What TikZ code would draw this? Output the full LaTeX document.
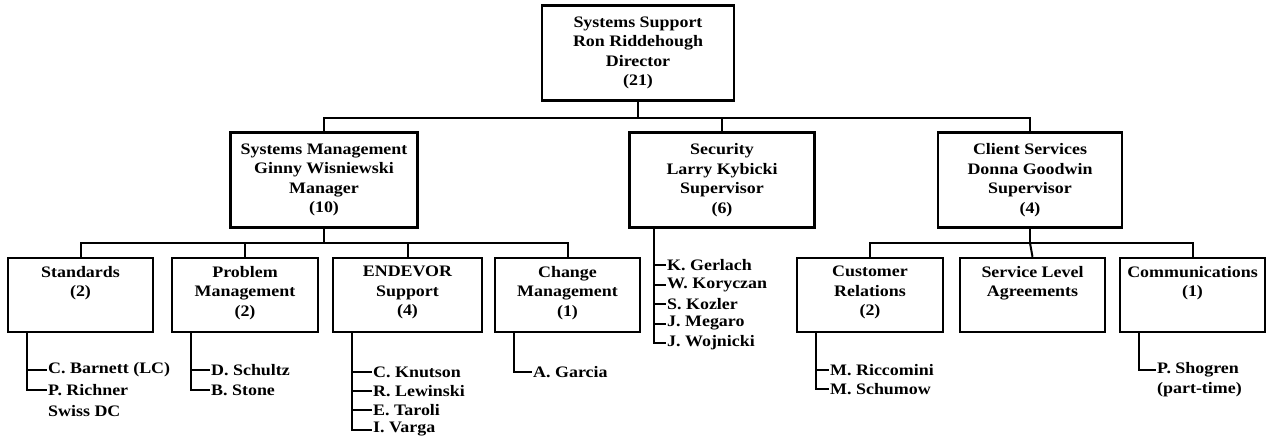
\documentclass[tikz,border=0pt]{standalone}
\usepackage{fontspec}
\setmainfont{Liberation Serif}[FakeStretch=1.12]
\begin{document}
\begin{tikzpicture}[x=1pt,y=-1pt,
  every node/.style={font=\bfseries\fontsize{16}{19.5}\selectfont},
  box/.style={draw, line width=2.4pt, inner sep=2pt, align=center},
  head/.style={box, minimum height=95pt},
  unit/.style={box, minimum width=#1, minimum height=74pt},
  utext/.style={anchor=north, align=center, inner sep=0pt, yshift=-9pt},
  member/.style={anchor=west, inner sep=1pt},
  link/.style={line width=2pt}]
\useasboundingbox (0,0) rectangle (1269,442);

% director
\node[head, minimum width=192pt] (dir) at (638,53)
  {Systems Support\\Ron Riddehough\\Director\\(21)};

% managers and supervisors
\node[head, minimum width=187pt] (sm) at (324,180)
  {Systems Management\\Ginny Wisniewski\\Manager\\(10)};
\node[head, minimum width=185pt] (sec) at (722,180)
  {Security\\Larry Kybicki\\Supervisor\\(6)};
\node[head, minimum width=184pt] (cs) at (1030,180)
  {Client Services\\Donna Goodwin\\Supervisor\\(4)};

% units
\node[unit=145pt, label={[utext]north:Standards\\(2)}] (std) at (80.5,295) {};
\node[unit=146pt, label={[utext]north:Problem\\Management\\(2)}] (pm) at (245,295) {};
\node[unit=149pt, label={[utext]north:ENDEVOR\\Support\\(4)}] (end) at (407.5,295) {};
\node[unit=145pt, label={[utext]north:Change\\Management\\(1)}] (chg) at (567.5,295) {};
\node[unit=146pt, label={[utext]north:Customer\\Relations\\(2)}] (cus) at (870,295) {};
\node[unit=145pt, label={[utext]north:Service Level\\Agreements}] (sla) at (1032.5,295) {};
\node[unit=145pt, label={[utext]north:Communications\\(1)}] (com) at (1192.5,295) {};

% bus lines
\coordinate (bus1) at (0,118);
\coordinate (bus2) at (0,243);
\draw[link] (dir.south) -- (dir.south |- bus1) -| (sm.north);
\draw[link] (dir.south |- bus1) -| (sec.north);
\draw[link] (dir.south |- bus1) -| (cs.north);

\draw[link] (sm.south) -- (sm.south |- bus2) -| (std.north);
\draw[link] (sm.south |- bus2) -| (pm.north);
\draw[link] (sm.south |- bus2) -| (end.north);
\draw[link] (sm.south |- bus2) -| (chg.north);

\draw[link] (cs.south) -- (cs.south |- bus2) -| (cus.north);
\draw[link] (cs.south |- bus2) -- (sla.north);
\draw[link] (cs.south |- bus2) -| (com.north);

% staff lists
\node[member] (std1) at (47,370) {C. Barnett (LC)};
\node[member] (std2) at (47,390) {P. Richner};
\node[member] (std2b) at (47,411) {Swiss DC};
\foreach \m in {std1,std2}
  \draw[link] ([xshift=20pt]std.south west) |- (\m.west);

\node[member] (pm1) at (210,370) {D. Schultz};
\node[member] (pm2) at (210,390) {B. Stone};
\foreach \m in {pm1,pm2}
  \draw[link] ([xshift=20pt]pm.south west) |- (\m.west);

\node[member] (end1) at (372,372) {C. Knutson};
\node[member] (end2) at (372,391) {R. Lewinski};
\node[member] (end3) at (372,410) {E. Taroli};
\node[member] (end4) at (372,429.5) {I. Varga};
\foreach \m in {end1,end2,end3,end4}
  \draw[link] ([xshift=20pt]end.south west) |- (\m.west);

\node[member] (chg1) at (532,372) {A. Garcia};
\draw[link] ([xshift=20pt]chg.south west) |- (chg1.west);

\node[member] (sec1) at (666,265) {K. Gerlach};
\node[member] (sec2) at (666,284.5) {W. Koryczan};
\node[member] (sec3) at (666,304) {S. Kozler};
\node[member] (sec4) at (666,323.5) {J. Megaro};
\node[member] (sec5) at (666,343) {J. Wojnicki};
\foreach \m in {sec1,sec2,sec3,sec4,sec5}
  \draw[link] ([xshift=26pt]sec.south west) |- (\m.west);

\node[member] (cus1) at (829,370) {M. Riccomini};
\node[member] (cus2) at (829,389) {M. Schumow};
\foreach \m in {cus1,cus2}
  \draw[link] ([xshift=20pt]cus.south west) |- (\m.west);

\node[member] (com1) at (1156,370) {P. Shogren};
\node[member] (com1b) at (1156,390) {(part-time)};
\draw[link] ([xshift=20pt]com.south west) |- (com1.west);
\end{tikzpicture}
\end{document}
